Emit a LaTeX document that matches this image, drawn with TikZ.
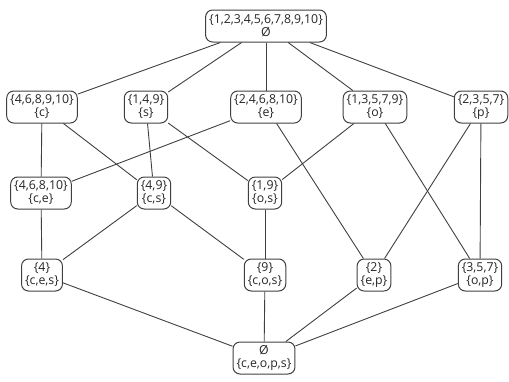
\documentclass[tikz,border=0pt]{standalone}
\usepackage{fontspec}
\setmainfont{Open Sans}
\begin{document}
\begin{tikzpicture}[x=1pt,y=-1pt,
  lat/.style={draw=black!75, line width=1pt, rounded corners=7pt, align=center,
    inner xsep=3.5pt, inner ysep=2pt, minimum height=32pt, font=\fontsize{12.3}{13}\selectfont, text=black!85},
  edge/.style={draw=black!75, line width=0.9pt}]
\useasboundingbox (0,0) rectangle (509,381);
% top element
\node[lat] (top) at (266,26) {\{1,2,3,4,5,6,7,8,9,10\}\\Ø};
% attribute concepts
\node[lat] (c) at (42,107) {\{4,6,8,9,10\}\\\{c\}};
\node[lat] (s) at (146,107) {\{1,4,9\}\\\{s\}};
\node[lat] (e) at (266,107) {\{2,4,6,8,10\}\\\{e\}};
\node[lat] (o) at (375,107) {\{1,3,5,7,9\}\\\{o\}};
\node[lat] (p) at (481,107) {\{2,3,5,7\}\\\{p\}};
% pairs
\node[lat] (ce) at (41,193) {\{4,6,8,10\}\\\{c,e\}};
\node[lat] (cs) at (154,193) {\{4,9\}\\\{c,s\}};
\node[lat] (os) at (265,193) {\{1,9\}\\\{o,s\}};
% triples
\node[lat] (ces) at (42,275) {\{4\}\\\{c,e,s\}};
\node[lat] (cos) at (265,275) {\{9\}\\\{c,o,s\}};
\node[lat] (ep) at (374,275) {\{2\}\\\{e,p\}};
\node[lat] (op) at (480,275) {\{3,5,7\}\\\{o,p\}};
% bottom element
\node[lat] (bot) at (264,358) {Ø\\\{c,e,o,p,s\}};
% covering relation
\foreach \a/\b in {top/c, top/s, top/e, top/o, top/p,
                   c/ce, c/cs, s/cs, s/os, e/ce, e/ep, o/os, o/op, p/ep, p/op,
                   ce/ces, cs/ces, cs/cos, os/cos,
                   ces/bot, cos/bot, ep/bot, op/bot}
  \draw[edge] (\a) -- (\b);
\end{tikzpicture}
\end{document}
